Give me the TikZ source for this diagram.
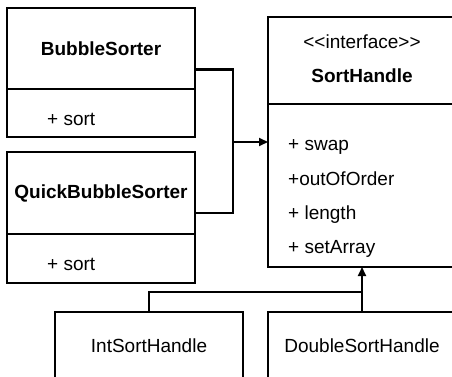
\documentclass[tikz,border=0pt]{standalone}
\usepackage{fontspec}
\setmainfont{Liberation Sans}
\usetikzlibrary{positioning, arrows.meta}
\tikzset{
  >={Triangle[length=9pt,width=8pt]},
  x=1pt, y=-1pt,
  cls/.style={draw, line width=2.4pt, minimum width=188pt, inner sep=0pt, outer sep=0pt,
              font=\fontsize{19}{21}\selectfont},
  head/.style={cls, font=\fontsize{19}{21}\selectfont\bfseries},
  item/.style={anchor=base west, inner sep=0pt, font=\fontsize{19}{21}\selectfont},
  label/.style={anchor=base, inner sep=0pt, font=\fontsize{19}{21}\selectfont},
  link/.style={line width=2.8pt},
  inherit/.style={line width=2pt, ->},
}
\begin{document}
\begin{tikzpicture}
  \useasboundingbox (0,0) rectangle (452,377);
  \clip (0,0) rectangle (452,377);

  % sorters
  \node[head, minimum height=81pt, anchor=north west] (bubHead) at (7,8) {\raisebox{-2pt}{BubbleSorter}};
  \node[cls, minimum height=48pt, below=0pt of bubHead] (bubBody) {};
  \node[item] (bubSort) at ([shift={(40,36)}]bubBody.north west) {+ sort};

  \node[head, minimum height=82pt, anchor=north west] (qbsHead) at (7,152) {\raisebox{-4pt}{QuickBubbleSorter}};
  \node[cls, minimum height=49pt, below=0pt of qbsHead] (qbsBody) {};
  \node[item] (qbsSort) at ([shift={(40,36)}]qbsBody.north west) {+ sort};

  % interface
  \node[cls, minimum height=87pt, anchor=north west] (shHead) at (268,17) {};
  \node[cls, minimum height=163pt, below=0pt of shHead] (shBody) {};
  \node[label] (shStereo) at ([yshift=-32pt]shHead.north) {<\kern0pt<interface>\kern0pt>};
  \node[label, font=\fontsize{19}{21}\selectfont\bfseries] (shName)
    at ([yshift=-66pt]shHead.north) {SortHandle};
  \node[item] (shSwap)  at ([shift={(20,46)}]shBody.north west) {+ swap};
  \node[item] (shOrder) at ([shift={(20,81)}]shBody.north west) {+outOfOrder};
  \node[item] (shLen)   at ([shift={(20,115)}]shBody.north west) {+ length};
  \node[item] (shSet)   at ([shift={(20,149)}]shBody.north west) {+ setArray};

  % implementations
  \node[cls, minimum height=90pt, anchor=north west] (ishBox) at (55,312) {};
  \node[label] (ishName) at ([yshift=-40pt]ishBox.north) {IntSortHandle};
  \node[cls, minimum height=90pt, anchor=north west] (dshBox) at (268,312) {};
  \node[label] (dshName) at ([yshift=-40pt]dshBox.north) {DoubleSortHandle};

  % connectors
  \coordinate (join) at (233,142);
  \coordinate (fork) at (362,292);
  \draw[link] ([yshift=-21pt]bubHead.east) -| (join);
  \draw[link] ([yshift=-20pt]qbsHead.east) -| (join);
  \draw[inherit] (join) -- (join -| shBody.west);
  \draw[line width=2pt] (ishBox.north) |- (fork);
  \draw[inherit] (dshBox.north) -- (shBody.south);
\end{tikzpicture}
\end{document}
